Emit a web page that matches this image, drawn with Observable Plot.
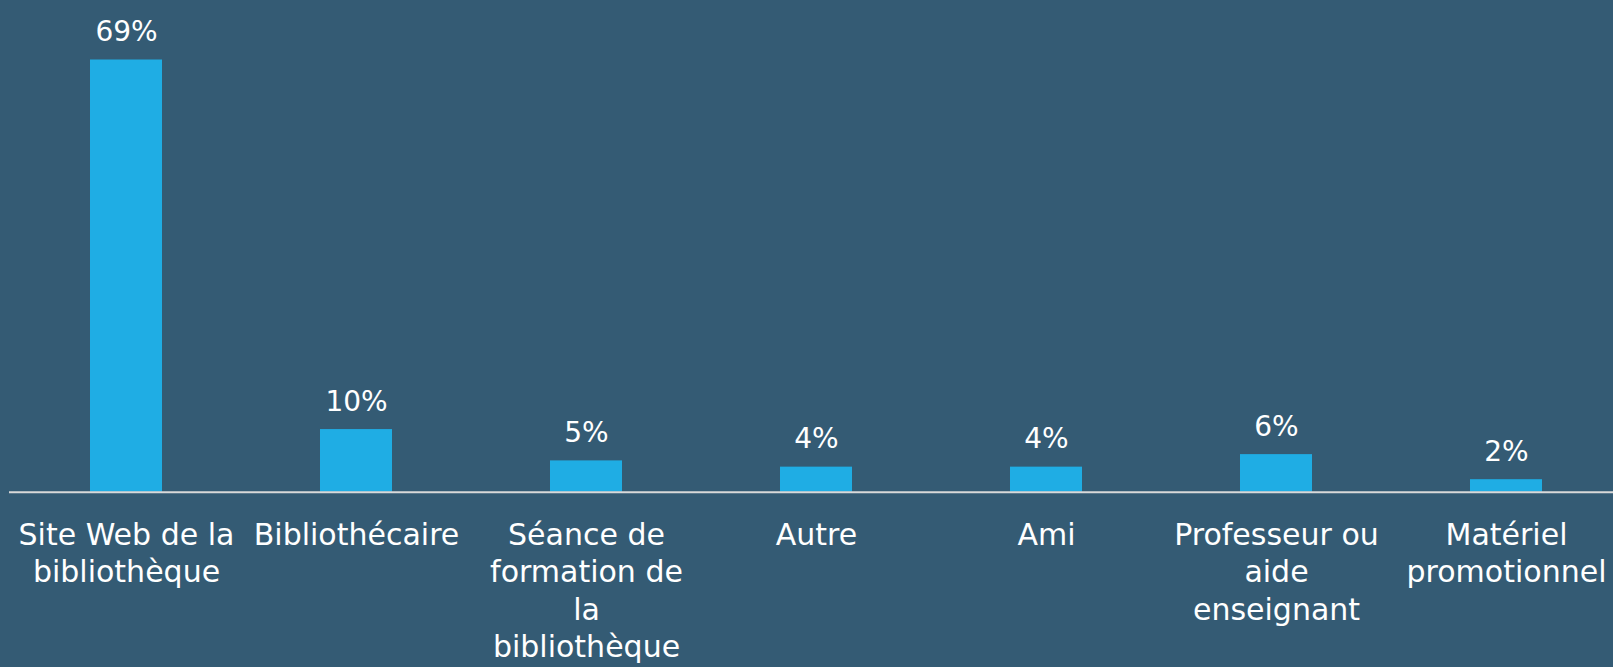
<!DOCTYPE html>
<html><head><meta charset="utf-8">
<script src="https://cdn.jsdelivr.net/npm/d3@7"></script>
<script src="https://cdn.jsdelivr.net/npm/@observablehq/plot@0.6"></script>
<style>html,body{margin:0;padding:0;background:#345b74;overflow:hidden}</style>
</head><body><div id="chart"></div>
<script>
const categories = ["Site Web de la bibliothèque","Bibliothécaire","Séance de formation de la bibliothèque","Autre","Ami","Professeur ou aide enseignant","Matériel promotionnel"];
const tickLabels = ["Site Web de la\nbibliothèque","Bibliothécaire","Séance de\nformation de\nla\nbibliothèque","Autre","Ami","Professeur ou\naide\nenseignant","Matériel\npromotionnel"];
const values = [69,10,5,4,4,6,2];
const valueLabels = ["69%","10%","5%","4%","4%","6%","2%"];
const data = categories.map((c,i)=>({category:c, value:values[i], label:valueLabels[i], tick:tickLabels[i]}));
const chart = Plot.plot({
  width:1613, height:667, marginLeft:9, marginRight:0, marginTop:0, marginBottom:0,
  style:{background:"#345b74", color:"#fff", fontFamily:"'DejaVu Sans', sans-serif", fontSize:"30px"},
  x:{domain:categories, range:[11,1621], paddingInner:0.687, paddingOuter:0.3435, axis:null},
  y:{domain:[0,69], range:[491.7,59.5], axis:null},
  marks:[
    Plot.barY(data,{x:"category", y:"value", fill:"#1fade4"}),
    Plot.ruleY([0],{stroke:"#d9d9d9", strokeWidth:2}),
    Plot.text(data,{x:"category", y:"value", text:"label", lineAnchor:"bottom", dy:-19, fill:"#fff", fontSize:28}),
    Plot.text(data,{x:"category", y:0, text:"tick", lineAnchor:"top", dy:26, fill:"#fff", fontSize:30, lineHeight:1.25})
  ]
});
document.getElementById("chart").appendChild(chart);
</script>
</body></html>
